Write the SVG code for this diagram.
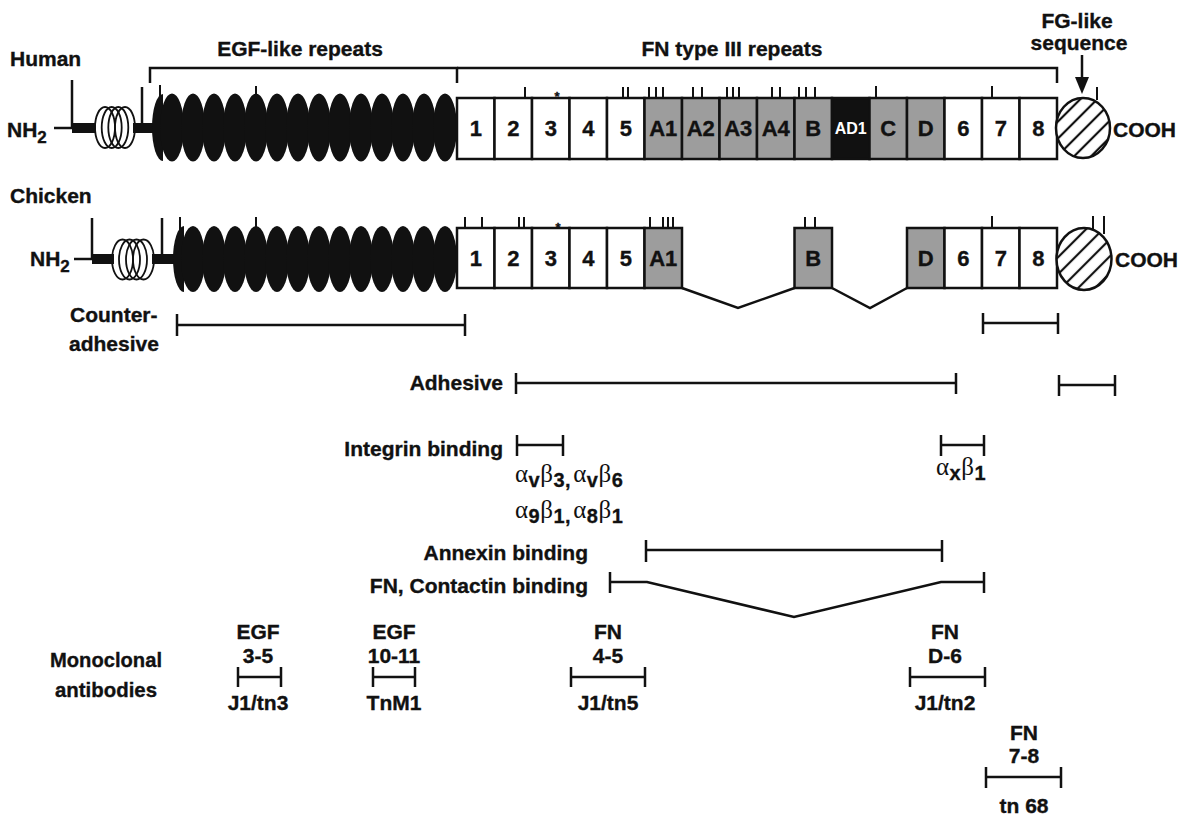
<svg xmlns="http://www.w3.org/2000/svg" width="1182" height="816" viewBox="0 0 1182 816">
<style>
.t{font-family:"Liberation Sans",Arial,Helvetica,sans-serif;font-weight:bold;font-size:21px;fill:#111;stroke:#111;stroke-width:0.35}
.m{text-anchor:middle}
.e{text-anchor:end}
.bx{font-family:"Liberation Sans",Arial,sans-serif;font-weight:bold;font-size:22px;fill:#111;text-anchor:middle;stroke:#111;stroke-width:0.35}
.ln{stroke:#111;stroke-width:2.5;fill:none}
.tk{stroke:#111;stroke-width:2;fill:none}
.w{fill:#fff;stroke:#111;stroke-width:2.5}
.gr{fill:#9d9d9d;stroke:#111;stroke-width:2.5}
.bk{fill:#111;stroke:#111;stroke-width:2.5}
.egf{fill:#111}
.coil{fill:none;stroke:#111;stroke-width:1.8}
.gk{font-family:"Liberation Serif","DejaVu Serif",serif;font-size:25px;fill:#111}
.sb{font-family:"Liberation Sans",Arial,sans-serif;font-weight:bold;font-size:20px;fill:#111;stroke:#111;stroke-width:0.3}
</style>
<defs>
<pattern id="hatch" width="12" height="12" patternUnits="userSpaceOnUse" patternTransform="rotate(45)">
<rect width="12" height="12" fill="#fff"/>
<line x1="6" y1="0" x2="6" y2="12" stroke="#111" stroke-width="2.2"/>
</pattern>
</defs>
<rect width="1182" height="816" fill="#fff"/>

<!-- Header labels -->
<g id="headers">
<text class="t" x="10" y="66">Human</text>
<text class="t m" x="300" y="56">EGF-like repeats</text>
<text class="t m" x="732" y="56">FN type III repeats</text>
<text class="t m" x="1077" y="28">FG-like</text>
<text class="t m" x="1079" y="50">sequence</text>
<path class="ln" d="M150,83 V68 H457 V83"/>
<path class="ln" d="M457,68 H1057 V83"/>
<line class="ln" x1="1082" y1="55" x2="1082" y2="80"/>
<polygon points="1075,77 1089,77 1082,94" fill="#111"/>
</g>

<!-- Human N-terminal region -->
<g id="human-nterm">
<text class="t" x="7" y="137">NH<tspan font-size="17" dy="6">2</tspan></text>
<line class="ln" x1="54" y1="128" x2="72" y2="128"/>
<line class="ln" x1="72" y1="80" x2="72" y2="128"/>
<rect x="72" y="123" width="24" height="10" fill="#111"/>
<rect x="133" y="123" width="22" height="10" fill="#111"/>
<line class="ln" x1="142" y1="87" x2="142" y2="128"/>
<ellipse class="coil" cx="105" cy="127.5" rx="10" ry="20.5"/>
<ellipse class="coil" cx="111.7" cy="127.5" rx="10" ry="20.5"/>
<ellipse class="coil" cx="118.3" cy="127.5" rx="10" ry="20.5"/>
<ellipse class="coil" cx="125" cy="127.5" rx="10" ry="20.5"/>
</g>

<!-- Human EGF-like repeats -->
<g id="human-egf">
<path class="egf" d="M163,94 A11,33.5 0 0,0 163,161 Z"/>
<rect x="155" y="122" width="300" height="11" fill="#111"/>
<ellipse class="egf" cx="172" cy="127.5" rx="12" ry="34"/>
<ellipse class="egf" cx="193" cy="127.5" rx="12" ry="34"/>
<ellipse class="egf" cx="214" cy="127.5" rx="12" ry="34"/>
<ellipse class="egf" cx="235" cy="127.5" rx="12" ry="34"/>
<ellipse class="egf" cx="256" cy="127.5" rx="12" ry="34"/>
<ellipse class="egf" cx="277" cy="127.5" rx="12" ry="34"/>
<ellipse class="egf" cx="298" cy="127.5" rx="12" ry="34"/>
<ellipse class="egf" cx="319" cy="127.5" rx="12" ry="34"/>
<ellipse class="egf" cx="340" cy="127.5" rx="12" ry="34"/>
<ellipse class="egf" cx="361" cy="127.5" rx="12" ry="34"/>
<ellipse class="egf" cx="382" cy="127.5" rx="12" ry="34"/>
<ellipse class="egf" cx="403" cy="127.5" rx="12" ry="34"/>
<ellipse class="egf" cx="424" cy="127.5" rx="12" ry="34"/>
<ellipse class="egf" cx="445" cy="127.5" rx="12" ry="34"/>
<line class="tk" x1="160" y1="85" x2="160" y2="98"/>
<line class="tk" x1="256" y1="86" x2="256" y2="95"/>
</g>

<!-- Human FN type III repeats -->
<g id="human-fn">
<g id="h-fn1"><rect class="w" x="457" y="98" width="37.5" height="61"/><text class="bx" x="475.75" y="136">1</text></g>
<g id="h-fn2"><rect class="w" x="494.5" y="98" width="37.5" height="61"/><text class="bx" x="513.25" y="136">2</text></g>
<g id="h-fn3"><rect class="w" x="532" y="98" width="37.5" height="61"/><text class="bx" x="550.75" y="136">3</text></g>
<g id="h-fn4"><rect class="w" x="569.5" y="98" width="37.5" height="61"/><text class="bx" x="588.25" y="136">4</text></g>
<g id="h-fn5"><rect class="w" x="607" y="98" width="37.5" height="61"/><text class="bx" x="625.75" y="136">5</text></g>
<g id="h-fnA1"><rect class="gr" x="644.5" y="98" width="37.5" height="61"/><text class="bx" x="663.25" y="136">A1</text></g>
<g id="h-fnA2"><rect class="gr" x="682" y="98" width="37.5" height="61"/><text class="bx" x="700.75" y="136">A2</text></g>
<g id="h-fnA3"><rect class="gr" x="719.5" y="98" width="37.5" height="61"/><text class="bx" x="738.25" y="136">A3</text></g>
<g id="h-fnA4"><rect class="gr" x="757" y="98" width="37.5" height="61"/><text class="bx" x="775.75" y="136">A4</text></g>
<g id="h-fnB"><rect class="gr" x="794.5" y="98" width="37.5" height="61"/><text class="bx" x="813.25" y="136">B</text></g>
<g id="h-fnAD1"><rect class="bk" x="832" y="98" width="37.5" height="61"/><text class="bx" x="850.75" y="134" style="fill:#fff;stroke:none;font-size:16px">AD1</text></g>
<g id="h-fnC"><rect class="gr" x="869.5" y="98" width="37.5" height="61"/><text class="bx" x="888.25" y="136">C</text></g>
<g id="h-fnD"><rect class="gr" x="907" y="98" width="37.5" height="61"/><text class="bx" x="925.75" y="136">D</text></g>
<g id="h-fn6"><rect class="w" x="944.5" y="98" width="37.5" height="61"/><text class="bx" x="963.25" y="136">6</text></g>
<g id="h-fn7"><rect class="w" x="982" y="98" width="37.5" height="61"/><text class="bx" x="1000.75" y="136">7</text></g>
<g id="h-fn8"><rect class="w" x="1019.5" y="98" width="37.5" height="61"/><text class="bx" x="1038.25" y="136">8</text></g>
<path class="tk" d="M525,87V98 M623,87V98 M628,87V98 M649,87V98 M656,87V98 M663,87V98 M693,87V98 M702,87V98 M727,87V98 M733,87V98 M739,87V98 M772,87V98 M780,87V98 M799,87V98 M806,87V98 M815,87V98 M876,86V98 M992,86V98"/>
<text class="t m" x="557" y="101" style="font-size:13px">*</text>
</g>

<!-- Human FG-like domain -->
<g id="human-fg">
<ellipse cx="1083" cy="128" rx="27" ry="30" fill="url(#hatch)" stroke="#111" stroke-width="2.5"/>
<line class="tk" x1="1097" y1="87" x2="1097" y2="100"/>
<text class="t" x="1113" y="137">COOH</text>
</g>

<!-- Chicken -->
<g id="chicken-label"><text class="t" x="10" y="203">Chicken</text></g>

<g id="chicken-nterm">
<text class="t" x="30" y="266">NH<tspan font-size="17" dy="6">2</tspan></text>
<line class="ln" x1="74" y1="259" x2="92" y2="259"/>
<line class="ln" x1="92" y1="218" x2="92" y2="259"/>
<rect x="92" y="254" width="22" height="10" fill="#111"/>
<rect x="152" y="254" width="22" height="10" fill="#111"/>
<line class="ln" x1="162" y1="218" x2="162" y2="259"/>
<ellipse class="coil" cx="122.5" cy="259.5" rx="10.5" ry="20"/>
<ellipse class="coil" cx="129.5" cy="259.5" rx="10.5" ry="20"/>
<ellipse class="coil" cx="136.5" cy="259.5" rx="10.5" ry="20"/>
<ellipse class="coil" cx="143.5" cy="259.5" rx="10.5" ry="20"/>
</g>

<g id="chicken-egf">
<path class="egf" d="M184,226 A11,33 0 0,0 184,292 Z"/>
<rect x="176" y="254" width="280" height="11" fill="#111"/>
<ellipse class="egf" cx="193" cy="259" rx="12" ry="33"/>
<ellipse class="egf" cx="214" cy="259" rx="12" ry="33"/>
<ellipse class="egf" cx="235" cy="259" rx="12" ry="33"/>
<ellipse class="egf" cx="256" cy="259" rx="12" ry="33"/>
<ellipse class="egf" cx="277" cy="259" rx="12" ry="33"/>
<ellipse class="egf" cx="298" cy="259" rx="12" ry="33"/>
<ellipse class="egf" cx="319" cy="259" rx="12" ry="33"/>
<ellipse class="egf" cx="340" cy="259" rx="12" ry="33"/>
<ellipse class="egf" cx="361" cy="259" rx="12" ry="33"/>
<ellipse class="egf" cx="382" cy="259" rx="12" ry="33"/>
<ellipse class="egf" cx="403" cy="259" rx="12" ry="33"/>
<ellipse class="egf" cx="424" cy="259" rx="12" ry="33"/>
<ellipse class="egf" cx="445" cy="259" rx="12" ry="33"/>
<line class="tk" x1="180" y1="217" x2="180" y2="230"/>
<line class="tk" x1="256" y1="217" x2="256" y2="227"/>
</g>

<g id="chicken-fn">
<g id="c-fn1"><rect class="w" x="457" y="228" width="37.5" height="60"/><text class="bx" x="475.75" y="266">1</text></g>
<g id="c-fn2"><rect class="w" x="494.5" y="228" width="37.5" height="60"/><text class="bx" x="513.25" y="266">2</text></g>
<g id="c-fn3"><rect class="w" x="532" y="228" width="37.5" height="60"/><text class="bx" x="550.75" y="266">3</text></g>
<g id="c-fn4"><rect class="w" x="569.5" y="228" width="37.5" height="60"/><text class="bx" x="588.25" y="266">4</text></g>
<g id="c-fn5"><rect class="w" x="607" y="228" width="37.5" height="60"/><text class="bx" x="625.75" y="266">5</text></g>
<g id="c-fnA1"><rect class="gr" x="644.5" y="228" width="37.5" height="60"/><text class="bx" x="663.25" y="266">A1</text></g>
<g id="c-fnB"><rect class="gr" x="794.5" y="228" width="37.5" height="60"/><text class="bx" x="813.25" y="266">B</text></g>
<g id="c-fnD"><rect class="gr" x="907" y="228" width="37.5" height="60"/><text class="bx" x="925.75" y="266">D</text></g>
<g id="c-fn6"><rect class="w" x="944.5" y="228" width="37.5" height="60"/><text class="bx" x="963.25" y="266">6</text></g>
<g id="c-fn7"><rect class="w" x="982" y="228" width="37.5" height="60"/><text class="bx" x="1000.75" y="266">7</text></g>
<g id="c-fn8"><rect class="w" x="1019.5" y="228" width="37.5" height="60"/><text class="bx" x="1038.25" y="266">8</text></g>
<path class="tk" d="M465,217V228 M482,217V228 M519,217V228 M524,217V228 M650,217V228 M663,217V228 M668,217V228 M673,217V228 M805,217V228 M815,217V228 M992,216V228"/>
<text class="t m" x="558" y="232" style="font-size:13px">*</text>
</g>

<g id="chicken-fg">
<ellipse cx="1084" cy="259" rx="27.5" ry="31" fill="url(#hatch)" stroke="#111" stroke-width="2.5"/>
<line class="tk" x1="1093" y1="216" x2="1093" y2="229"/>
<line class="tk" x1="1104" y1="216" x2="1104" y2="234"/>
<text class="t" x="1115" y="267">COOH</text>
</g>

<!-- Connectors: splicing lines and function bars -->
<g id="connectors">
<polyline class="ln" points="682,288 738,308 794.5,288"/>
<polyline class="ln" points="832,288 870,308 907,288"/>

<path class="ln" d="M177,314V336 M177,325H465 M465,314V336"/>
<path class="ln" d="M983,313V334 M983,323H1058 M1058,313V334"/>
<path class="ln" d="M516,373V394 M516,383H956 M956,373V394"/>
<path class="ln" d="M1059,375V396 M1059,385H1115 M1115,375V396"/>
<path class="ln" d="M517,435V456 M517,445H563 M563,435V456"/>
<path class="ln" d="M941,435V456 M941,445H984 M984,435V456"/>
<path class="ln" d="M646,540V562 M646,550H942 M942,540V562"/>
<path class="ln" d="M610,572V593 M610,582H647 L794,617 L941,582 H984 M984,572V593"/>

<path class="ln" d="M238,667V687 M238,677H281 M281,667V687"/>
<path class="ln" d="M373,667V687 M373,677H415 M415,667V687"/>
<path class="ln" d="M571,667V687 M571,677H645 M645,667V687"/>
<path class="ln" d="M910,667V687 M910,677H985 M985,667V687"/>
<path class="ln" d="M986,767V788 M986,777H1061 M1061,767V788"/>
</g>

<!-- Function labels -->
<g id="func-labels">
<text class="t" x="70" y="322">Counter-</text>
<text class="t" x="69" y="351">adhesive</text>
<text class="t e" x="503" y="390">Adhesive</text>
<text class="t e" x="503" y="456">Integrin binding</text>
<text x="515" y="482" class="gk" letter-spacing="0.5">α<tspan class="sb" dy="5">v</tspan><tspan class="gk" dy="-5">β</tspan><tspan class="sb" dy="5">3,</tspan><tspan class="gk" dy="-5" dx="2">α</tspan><tspan class="sb" dy="5">v</tspan><tspan class="gk" dy="-5">β</tspan><tspan class="sb" dy="5">6</tspan></text>
<text x="515" y="518" class="gk" letter-spacing="0.5">α<tspan class="sb" dy="5">9</tspan><tspan class="gk" dy="-5">β</tspan><tspan class="sb" dy="5">1,</tspan><tspan class="gk" dy="-5" dx="2">α</tspan><tspan class="sb" dy="5">8</tspan><tspan class="gk" dy="-5">β</tspan><tspan class="sb" dy="5">1</tspan></text>
<text x="936" y="475" class="gk" letter-spacing="0.5">α<tspan class="sb" dy="5">x</tspan><tspan class="gk" dy="-5">β</tspan><tspan class="sb" dy="5">1</tspan></text>
<text class="t e" x="588" y="560">Annexin binding</text>
<text class="t e" x="588" y="593">FN, Contactin binding</text>
</g>

<!-- Monoclonal antibodies -->
<g id="mab-labels">
<text class="t" x="50" y="667" textLength="112" lengthAdjust="spacingAndGlyphs">Monoclonal</text>
<text class="t" x="55" y="697" textLength="102" lengthAdjust="spacingAndGlyphs">antibodies</text>
<text class="t m" x="258" y="639">EGF</text>
<text class="t m" x="258" y="663">3-5</text>
<text class="t m" x="258" y="710">J1/tn3</text>
<text class="t m" x="394" y="639">EGF</text>
<text class="t m" x="394" y="663">10-11</text>
<text class="t m" x="394" y="710">TnM1</text>
<text class="t m" x="608" y="639">FN</text>
<text class="t m" x="608" y="663">4-5</text>
<text class="t m" x="608" y="710">J1/tn5</text>
<text class="t m" x="945" y="639">FN</text>
<text class="t m" x="945" y="663">D-6</text>
<text class="t m" x="945" y="710">J1/tn2</text>
<text class="t m" x="1024" y="740">FN</text>
<text class="t m" x="1024" y="763">7-8</text>
<text class="t m" x="1024" y="813">tn 68</text>
</g>
</svg>
